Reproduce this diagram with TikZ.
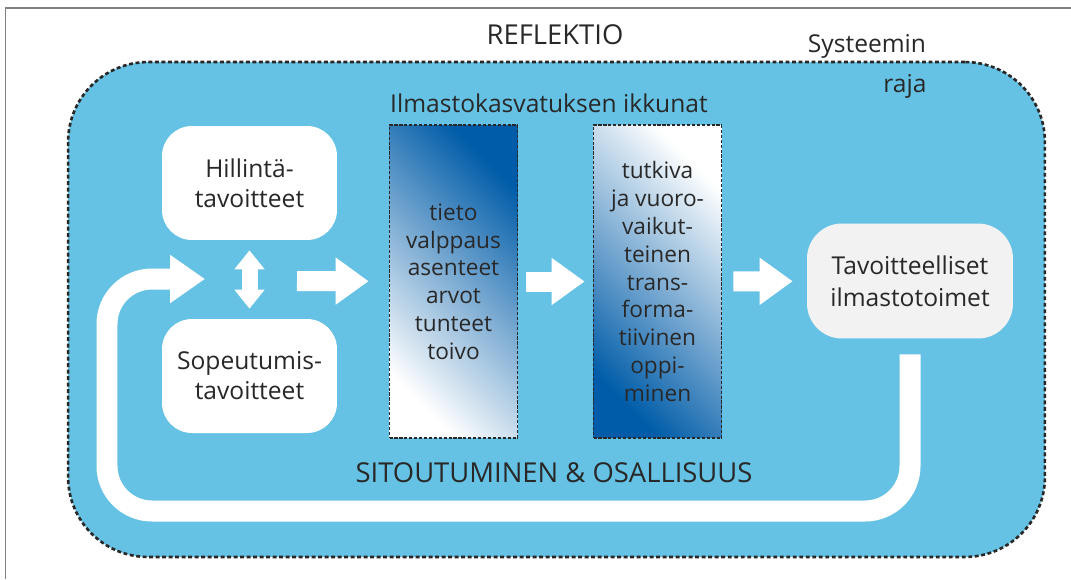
\documentclass[tikz,border=0pt]{standalone}
\usepackage{fontspec}
\setmainfont{Open Sans}
\usetikzlibrary{arrows.meta}
\definecolor{sysBlue}{RGB}{102,194,228}
\definecolor{deepBlue}{RGB}{0,92,168}
\definecolor{textGray}{RGB}{40,40,40}
\definecolor{paleGray}{RGB}{242,242,242}
\definecolor{frameGray}{RGB}{128,128,128}

\begin{document}
\begin{tikzpicture}[x = 0.02cm, y = -0.02cm]
\tikzstyle{sysStyle} = [draw = textGray, fill = sysBlue, line width = 1.5pt, dash pattern = on 2.2pt off 1.5pt, rounded corners = 1.6cm, inner sep = 0pt]
\tikzstyle{goalStyle} = [fill = white, rounded corners = 0.6cm, minimum width = 3.5cm, minimum height = 2.28cm, align = center, text = textGray, font = \fontsize{14}{17}\selectfont, inner sep = 0pt]
\tikzstyle{windowStyle} = [draw = textGray, line width = 1pt, dash pattern = on 1.8pt off 1pt, minimum width = 2.56cm, minimum height = 6.26cm, align = center, text = textGray, font = \fontsize{12.9}{15.8}\selectfont, inner sep = 0pt]
\tikzstyle{actionStyle} = [fill = paleGray, rounded corners = 0.7cm, minimum width = 4.12cm, minimum height = 2.3cm, align = center, text = textGray, font = \fontsize{14}{18.2}\selectfont, inner sep = 0pt]
\tikzstyle{labelStyle} = [anchor = base, text = textGray, font = \fontsize{14}{17}\selectfont, inner sep = 0pt]
\tikzstyle{fatArrow} = [white, line width = 0.4cm, -{Triangle[length = 0.66cm, width = 0.9cm]}]
\tikzstyle{twinArrow} = [white, line width = 0.32cm, {Triangle[length = 0.38cm, width = 0.58cm]}-{Triangle[length = 0.38cm, width = 0.58cm]}]
\tikzstyle{loopStyle} = [white, line width = 0.42cm, rounded corners = 0.9cm, -{Triangle[length = 0.7cm, width = 0.92cm]}]
\useasboundingbox (0,0) rectangle (1071,579);
\draw[frameGray, line width = 0.9pt] (1071,8) -- (5.5,8) -- (5.5,579);
\node[sysStyle, minimum width = 19.54cm, minimum height = 9.9cm] (sys) at (556.5,309.5) {};
\node[labelStyle, font = \fontsize{15.6}{18}\selectfont] (t0) at (555,44) {REFLEKTIO};
\node[labelStyle] (t1) at (867,52) {Systeemin};
\node[labelStyle] (t2) at (905,92) {raja};
\node[labelStyle] (t3) at (549,112) {Ilmastokasvatuksen ikkunat};
\node[labelStyle, font = \fontsize{15.6}{18}\selectfont] (t4) at (554,482) {SITOUTUMINEN \& OSALLISUUS};
\node[goalStyle] (b0) at (249.5,183) {Hillintä-\\tavoitteet};
\node[goalStyle] (b1) at (249.5,376) {Sopeutumis-\\tavoitteet};
\node[windowStyle, top color = deepBlue, bottom color = white, shading angle = -45] (b2) at (453.5,281.5) {tieto\\valppaus\\asenteet\\arvot\\tunteet\\toivo};
\node[windowStyle, top color = white, bottom color = deepBlue, shading angle = -45] (b3) at (657.5,281.5) {tutkiva\\ja vuoro-\\vaikut-\\teinen\\trans-\\forma-\\tiivinen\\oppi-\\minen};
\node[actionStyle] (b4) at (910,281) {Tavoitteelliset\\ilmastotoimet};
\coordinate (c0) at (297,281);
\coordinate (c1) at (205,279);
\draw[fatArrow, shorten >= 0.4cm] (c0) -- (b2);
\draw[fatArrow, shorten <= 0.16cm, shorten >= 0.16cm] (b2) -- (b3);
\draw[fatArrow, shorten <= 0.22cm, shorten >= 0.28cm] (b3) -- (b4);
\draw[twinArrow, shorten <= 0.2cm, shorten >= 0.2cm] (b0) -- (b1);
\draw[loopStyle, shorten <= 0.31cm] (b4.south) |- (107,511) |- (c1);
\end{tikzpicture}
\end{document}
